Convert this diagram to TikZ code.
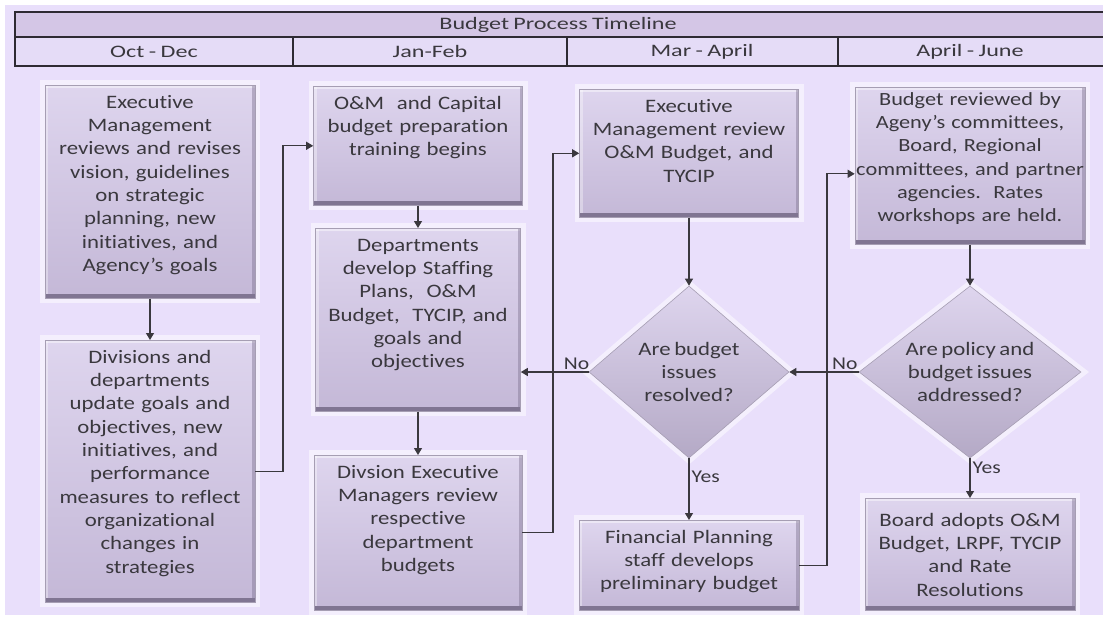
\documentclass[tikz,border=0pt]{standalone}
\usepackage{fontspec}
\setmainfont{Carlito}[FakeStretch=1.2, WordSpace=0.7, Ligatures=NoCommon]
\newfontfamily\headfont{Carlito}[FakeStretch=1.38, WordSpace=0.8]
\usetikzlibrary{shapes.geometric,arrows.meta}

\definecolor{pagebg}{RGB}{233,223,251}
\definecolor{glow}{RGB}{244,239,253}
\definecolor{boxtop}{RGB}{222,213,238}
\definecolor{boxbot}{RGB}{196,184,215}
\definecolor{bevel}{RGB}{128,117,146}
\definecolor{headrow}{RGB}{212,198,230}
\definecolor{subrow}{RGB}{229,220,247}
\definecolor{rule}{RGB}{46,42,51}
\definecolor{ink}{RGB}{58,56,62}

\tikzset{
  stepbox/.style={anchor=north, align=center, inner xsep=4pt, inner ysep=0pt,
    text height=23pt, font=\fontsize{19}{23.3}\selectfont, text=ink,
    top color=boxtop, bottom color=boxbot, draw=bevel!70, line width=0.6pt,
    preaction={draw=glow, line width=10pt},
    path picture={
      \fill[white, opacity=0.45] (path picture bounding box.north west) rectangle ([yshift=-2.5pt]path picture bounding box.north east);
      \fill[white, opacity=0.35] (path picture bounding box.south west) rectangle ([xshift=3pt]path picture bounding box.north west);
      \fill[bevel, opacity=0.45] ([xshift=-3pt]path picture bounding box.south east) rectangle (path picture bounding box.north east);
      \fill[bevel] (path picture bounding box.south west) rectangle ([yshift=4pt]path picture bounding box.south east);
    }},
  decision/.style={diamond, align=center, inner sep=0pt,
    font=\fontsize{19}{23.3}\selectfont, text=ink,
    top color=boxtop, bottom color=boxbot!92!black, draw=bevel!70, line width=0.6pt,
    preaction={draw=glow, line width=10pt}},
  headtext/.style={font=\headfont\fontsize{17.5}{20}\selectfont, text=ink, inner sep=0pt},
  tag/.style={font=\fontsize{18}{20}\selectfont, text=ink, inner sep=2pt},
  conn/.style={draw=ink, line width=1.1pt, -{Triangle[length=7pt,width=8pt]}},
  link/.style={draw=ink, line width=1.1pt}
}

\begin{document}
\begin{tikzpicture}[x=1pt, y=-1pt]
  \useasboundingbox (0,0) rectangle (1103,619);
  % Page and background
  \fill[white] (0,0) rectangle (1103,619);
  \fill[pagebg] (5,5) rectangle (1103,615);

  % Timeline header
  \fill[headrow] (15,12) rectangle (1106,37);
  \fill[subrow] (15,37) rectangle (1106,66);
  \draw[rule, line width=2.6pt] (15,12) rectangle (1106,66);
  \draw[rule, line width=2.2pt] (15,37) -- (1106,37);
  \draw[rule, line width=2.6pt] (293,37) -- (293,66);
  \draw[rule, line width=2.6pt] (567,37) -- (567,66);
  \draw[rule, line width=2.6pt] (838,37) -- (838,66);
  \node[headtext] (title) at (558,24.5) {Budget Process Timeline};
  \node[headtext] (octdec) at (154,51.5) {Oct - Dec};
  \node[headtext] (janfeb) at (430,51.5) {Jan-Feb};
  \node[headtext] (marapr) at (702,51.5) {Mar - April};
  \node[headtext] (aprjun) at (970,51.5) {April - June};

  % Lanes for the return connectors
  \coordinate (lane1) at (283,0);
  \coordinate (lane2) at (553,0);
  \coordinate (lane3) at (827,0);

  % Oct - Dec
  \node[stepbox, text width=202pt, text depth=190pt] (execrev) at (150,85)
    {Executive\\ Management\\ reviews and revises\\ vision, guidelines\\ on strategic\\ planning, new\\ initiatives, and\\ Agency's goals};
  \node[stepbox, text width=202pt, text depth=239pt] (divupd) at (150,340)
    {Divisions and\\ departments\\ update goals and\\ objectives, new\\ initiatives, and\\ performance\\ measures to reflect\\ organizational\\ changes in\\ strategies};

  % Jan-Feb
  \node[stepbox, text width=201pt, text depth=96pt] (prep) at (418,86)
    {O\&M\ \ and Capital\\ budget preparation\\ training begins};
  \node[stepbox, text width=197pt, text depth=160pt] (deptdev) at (418,228)
    {Departments\\ develop Staffing\\ Plans,\ \ O\&M\\ Budget,\ \ TYCIP, and\\ goals and\\ objectives};
  \node[stepbox, text width=200pt, text depth=132pt] (divrev) at (418,455)
    {Divsion Executive\\ Managers review\\ respective\\ department\\ budgets};

  % Mar - April
  \node[stepbox, text width=211pt, text depth=105pt] (mgmtrev) at (689,89)
    {Executive\\ Management review\\ O\&M Budget, and\\ TYCIP};
  \node[decision, aspect=1.16, minimum width=200pt, minimum height=172pt] (dia1) at (689,372)
    {Are budget\\ issues\\ resolved?};
  \node[stepbox, text width=212pt, text depth=67pt] (finplan) at (689,520)
    {Financial Planning\\ staff develops\\ preliminary budget};

  % April - June
  \node[stepbox, inner xsep=1pt, text width=228pt, text height=18pt, text depth=139pt,
    font=\fontsize{18.6}{23.3}\selectfont] (boardrev) at (970,87)
    {Budget reviewed by\\ Ageny's committees,\\ Board, Regional\\ committees, and partner\\ agencies.\ \ Rates\\ workshops are held.};
  \node[decision, aspect=1.29, minimum width=222pt, minimum height=172pt] (dia2) at (970,372)
    {Are policy and\\ budget issues\\ addressed?};
  \node[stepbox, text width=202pt, text height=28pt, text depth=84pt] (adopt) at (970,498)
    {Board adopts O\&M\\ Budget, LRPF, TYCIP\\ and Rate\\ Resolutions};

  % Connectors
  \draw[conn] (execrev.south) -- (divupd.north);
  \draw[conn] (divupd.east) -- (divupd.east -| lane1) |- (prep.west);
  \draw[conn] (prep.south) -- (deptdev.north);
  \draw[conn] (deptdev.south) -- (divrev.north);
  \draw[conn] (divrev.east) -- (divrev.east -| lane2) |- (mgmtrev.west);
  \draw[conn] (mgmtrev.south) -- (dia1.north);
  \draw[conn] (dia1.west) -- node[tag, pos=0.18, above] {No} (dia1.west -| deptdev.east);
  \draw[conn] (dia1.south) -- node[tag, pos=0.3, right] {Yes} (finplan.north);
  \draw[conn] (finplan.east) -- (finplan.east -| lane3) |- ([yshift=-8pt]boardrev.west);
  \draw[conn] (boardrev.south) -- (dia2.north);
  \draw[conn] (dia2.west) -- node[tag, pos=0.2, above] {No} (dia1.east);
  \draw[conn] (dia2.south) -- node[tag, pos=0.25, right] {Yes} (adopt.north);
\end{tikzpicture}
\end{document}
